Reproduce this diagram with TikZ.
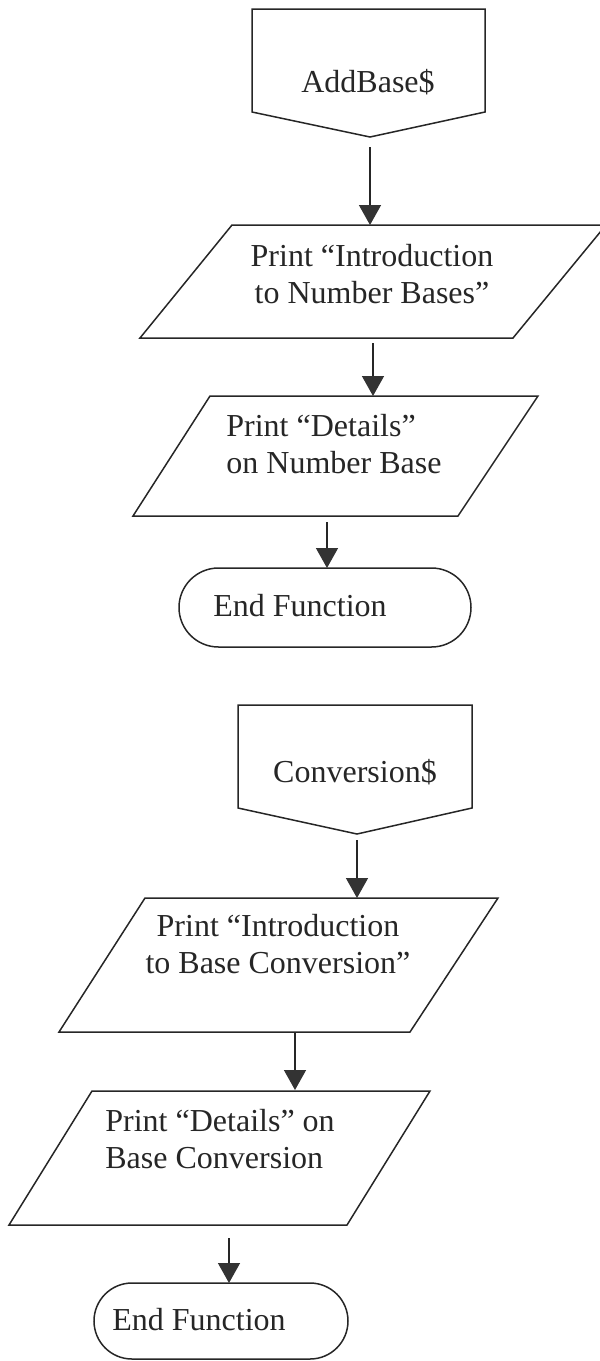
\documentclass[tikz,border=0pt]{standalone}
\usepackage{fontspec}
\setmainfont{Liberation Serif}
\usetikzlibrary{arrows.meta}
\begin{document}
\begin{tikzpicture}[x=0.5pt,y=-0.5pt,
  shp/.style={draw=black!85, line width=0.75pt, line join=miter},
  txt/.style={inner sep=0pt, text=black!85, font=\fontsize{16}{18.5}\selectfont},
  flow/.style={draw=black!85, line width=0.75pt, -{Triangle[width=11pt,length=10pt,color=black!80]}}
]
\useasboundingbox (0,0) rectangle (600,1361);
\clip (0,0) rectangle (600,1361);

% ---- AddBase$ (off-page connector) ----
\draw[shp] (252,9) -- (485,9) -- (485,112) -- (370,137) -- (252,112) -- cycle;
\node[txt] (addbase) at (368,82) {AddBase\$};

% ---- Print Introduction to Number Bases ----
\draw[shp] (232,225) -- (606,225) -- (513,338) -- (140,338) -- cycle;
\node[txt, align=center] (intro1) at (372,274) {Print “Introduction\\to Number Bases”};

% ---- Print Details on Number Base ----
\draw[shp] (210,396) -- (538,396) -- (458,516) -- (133,516) -- cycle;
\node[txt, align=left, anchor=west] (details1) at (226,444) {Print “Details”\\on Number Base};

% ---- End Function 1 ----
\draw[shp, rounded corners=19.75pt] (179,568) rectangle (471,647);
\node[txt] (end1) at (300,606) {End Function};

% ---- Conversion$ (off-page connector) ----
\draw[shp] (238,705) -- (472,705) -- (472,808) -- (357,834) -- (238,808) -- cycle;
\node[txt] (conv) at (355,772) {Conversion\$};

% ---- Print Introduction to Base Conversion ----
\draw[shp] (145,898) -- (498,898) -- (410,1032) -- (59,1032) -- cycle;
\node[txt, align=center] (intro2) at (278,944) {Print “Introduction\\to Base Conversion”};

% ---- Print Details on Base Conversion ----
\draw[shp] (92,1091) -- (430,1091) -- (347,1225) -- (9,1225) -- cycle;
\node[txt, align=left, anchor=west] (details2) at (105,1139) {Print “Details” on\\Base Conversion};

% ---- End Function 2 ----
\draw[shp, rounded corners=19pt] (94,1283) rectangle (348,1359);
\node[txt] (end2) at (199,1320) {End Function};

% ---- connector end points ----
\coordinate (c1s) at (370,147);  \coordinate (c1e) at (370,225);
\coordinate (c2s) at (373,343);  \coordinate (c2e) at (373,396);
\coordinate (c3s) at (327,522);  \coordinate (c3e) at (327,568);
\coordinate (c4s) at (357,840);  \coordinate (c4e) at (357,898);
\coordinate (c5s) at (295,1032); \coordinate (c5e) at (295,1090);
\coordinate (c6s) at (229,1238); \coordinate (c6e) at (229,1283);

\draw[flow] (c1s) -- (c1e);
\draw[flow] (c2s) -- (c2e);
\draw[flow] (c3s) -- (c3e);
\draw[flow] (c4s) -- (c4e);
\draw[flow] (c5s) -- (c5e);
\draw[flow] (c6s) -- (c6e);
\end{tikzpicture}
\end{document}
